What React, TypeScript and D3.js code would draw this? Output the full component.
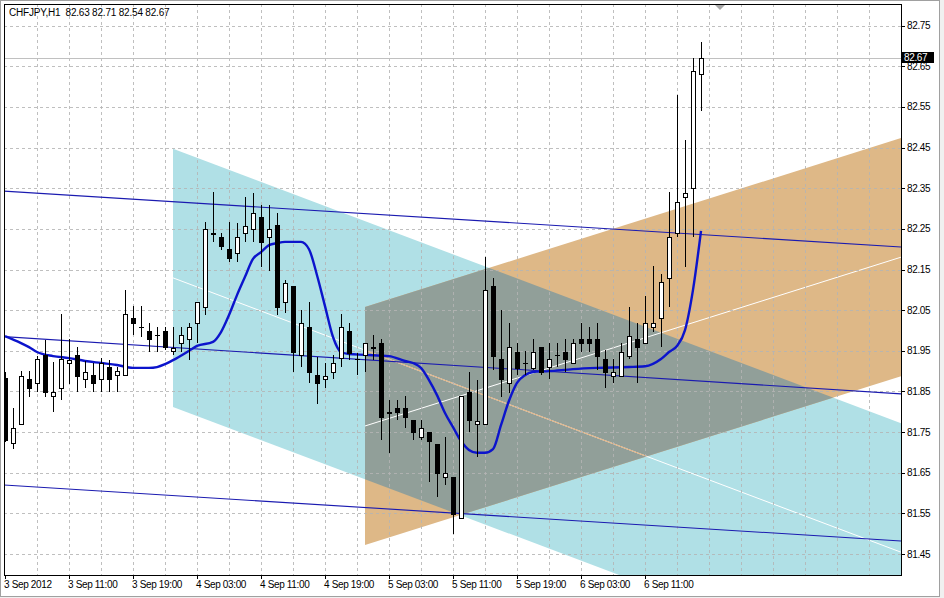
import React, { useEffect } from 'react';
import * as d3 from 'd3';

const title = 'CHFJPY,H1  82.63 82.71 82.54 82.67';

// OHLC per hourly bar, starting 3 Sep 2012 03:00
const opens = [81.883,81.723,81.770,81.881,81.871,81.940,81.839,81.858,81.920,81.940,81.881,81.890,81.881,81.910,81.890,81.890,82.031,82.009,81.999,81.989,81.999,81.950,81.969,81.979,82.018,82.058,82.240,82.230,82.200,82.191,82.240,82.250,82.279,82.230,82.260,82.070,82.109,81.940,82.009,81.890,81.881,81.898,81.932,81.999,81.930,81.940,81.959,81.969,81.799,81.809,81.809,81.780,81.738,81.750,81.721,81.640,81.640,81.539,81.849,81.770,81.770,82.109,81.930,81.871,81.947,81.920,81.908,81.959,81.910,81.940,81.947,81.920,81.979,81.979,81.979,81.930,81.888,81.888,81.937,81.979,81.969,82.009,82.031,82.129,82.240,82.328,82.351,82.630];
const highs = [81.898,81.809,81.900,81.900,81.937,81.977,81.922,82.041,81.979,81.959,81.925,81.920,81.932,81.927,81.910,82.100,82.060,82.060,82.018,82.009,82.009,82.009,82.009,82.018,82.070,82.267,82.341,82.240,82.267,82.264,82.328,82.338,82.309,82.309,82.289,82.124,82.109,82.050,82.070,81.935,81.920,81.940,82.041,82.018,81.945,81.969,81.989,81.979,81.829,81.829,81.839,81.780,81.780,81.750,81.721,81.738,81.640,81.839,81.898,81.878,82.181,82.129,82.050,82.018,81.969,81.950,81.979,81.959,81.969,81.969,81.979,81.979,82.018,82.009,82.018,81.952,81.930,81.969,82.058,82.018,82.085,82.159,82.139,82.341,82.579,82.469,82.670,82.710];
const lows = [81.726,81.708,81.770,81.836,81.849,81.836,81.799,81.829,81.868,81.849,81.858,81.849,81.849,81.849,81.849,81.890,81.989,81.984,81.947,81.947,81.952,81.940,81.947,81.927,81.969,82.038,82.218,82.198,82.169,82.169,82.218,82.218,82.156,82.146,82.038,82.043,81.898,81.910,81.871,81.819,81.858,81.881,81.910,81.927,81.890,81.898,81.927,81.731,81.699,81.780,81.760,81.731,81.731,81.627,81.590,81.620,81.499,81.539,81.750,81.689,81.770,81.903,81.836,81.846,81.890,81.890,81.903,81.890,81.881,81.910,81.898,81.920,81.947,81.947,81.903,81.858,81.871,81.888,81.930,81.871,81.969,81.996,81.959,82.058,82.230,82.156,82.230,82.540];
const closes = [81.731,81.760,81.888,81.858,81.930,81.849,81.849,81.930,81.927,81.888,81.898,81.871,81.920,81.881,81.900,82.041,82.018,82.009,81.979,81.989,81.959,81.957,81.989,82.009,82.070,82.250,82.238,82.208,82.178,82.230,82.257,82.289,82.218,82.250,82.058,82.117,81.947,82.018,81.898,81.871,81.888,81.920,82.009,81.945,81.929,81.969,81.958,81.787,81.798,81.799,81.787,81.750,81.760,81.728,81.649,81.649,81.548,81.839,81.780,81.777,82.100,81.937,81.881,81.959,81.908,81.919,81.947,81.898,81.930,81.939,81.930,81.969,81.969,81.969,81.937,81.898,81.898,81.947,81.986,81.959,82.018,82.018,82.119,82.230,82.316,82.338,82.638,82.670];

// moving average (thick blue) read at bar positions
const maBars = [0,2,3,4,6,8,10,12,14,16,18,19,20,21,23,24,26,27,28,29,30,31,32,33,34,35,36,37,38,39,40,41,42,43,45,48,50,51,52,53,54,55,56,57,58,59,60,61,62,63,64,65,66,68,71,74,78,80,82,83,84,85,86,87];
const maValues = [81.986,81.969,81.959,81.947,81.937,81.932,81.925,81.920,81.915,81.908,81.908,81.910,81.917,81.927,81.950,81.962,81.972,81.996,82.038,82.087,82.132,82.176,82.193,82.210,82.215,82.218,82.218,82.218,82.200,82.136,82.060,81.984,81.947,81.942,81.940,81.937,81.925,81.920,81.908,81.878,81.841,81.797,81.762,81.728,81.706,81.699,81.699,81.708,81.767,81.827,81.871,81.890,81.898,81.900,81.905,81.908,81.910,81.912,81.930,81.947,81.962,82.001,82.100,82.245];

// thin blue channel lines: price at bar 0 and bar 112
const trendStart = [82.343, 81.985, 81.620];
const trendEnd = [82.2055, 81.844, 81.482];

// regression channels: [start bar, upper price, lower price, slope per bar]
const blueChannel = [21, 82.447, 81.812, -0.007418];
const tanChannel = [45, 82.058, 81.472, 0.0062];

const timeLabels = ['3 Sep 2012','3 Sep 11:00','3 Sep 19:00','4 Sep 03:00','4 Sep 11:00','4 Sep 19:00','5 Sep 03:00','5 Sep 11:00','5 Sep 19:00','6 Sep 03:00','6 Sep 11:00'];
const timeLabelBars = [0,8,16,24,32,40,48,56,64,72,80];
const priceTicks = [82.75,82.65,82.55,82.45,82.35,82.25,82.15,82.05,81.95,81.85,81.75,81.65,81.55,81.45];
const lastPrice = 82.67;

const FONT = '"Liberation Sans", Arial, sans-serif';

export default function App() {
  useEffect(() => {
    document.body.style.margin = '0';
  }, []);

  const L = 4, T = 4, R = 901, B = 575;
  const x = d3.scaleLinear().domain([0, 112]).range([5, 901]);
  const y = d3.scaleLinear().domain([81.45, 82.75]).range([554, 25.7]);

  const chanPoly = (c: number[]) => {
    const [sb, up, lo, sl] = c;
    const eb = 140;
    const pts: [number, number][] = [
      [x(sb), y(up)],
      [x(eb), y(up + sl * (eb - sb))],
      [x(eb), y(lo + sl * (eb - sb))],
      [x(sb), y(lo)],
    ];
    return pts.map(p => p.join(',')).join(' ');
  };
  const centerLine = (c: number[]) => {
    const [sb, up, lo, sl] = c;
    const mid = (up + lo) / 2;
    const eb = 140;
    return { x1: x(sb), y1: y(mid), x2: x(eb), y2: y(mid + sl * (eb - sb)) };
  };

  const maLine = d3.line<number>()
    .x((_, i) => x(maBars[i]))
    .y(d => y(d))
    .curve(d3.curveMonotoneX)(maValues) || '';

  const gridBars = d3.range(4, 112, 4);
  const bc = centerLine(blueChannel);
  const tc = centerLine(tanChannel);

  return (
    <svg width={944} height={598} style={{ position: 'absolute', left: 0, top: 0, display: 'block' }} fontFamily={FONT}>
      <defs>
        <clipPath id="plotClip"><rect x={L} y={T} width={R - L} height={B - T} /></clipPath>
        <clipPath id="blueClip"><polygon points={chanPoly(blueChannel)} /></clipPath>
        <clipPath id="tanClip"><polygon points={chanPoly(tanChannel)} /></clipPath>
      </defs>
      <rect x={0} y={0} width={944} height={598} fill="#f0f0f0" />
      <rect x={0.5} y={0.5} width={939} height={596} fill="#ffffff" stroke="#a0a0a0" />
      <g clipPath="url(#plotClip)">
        <polygon points={chanPoly(blueChannel)} fill="#b0e0e6" />
        <polygon points={chanPoly(tanChannel)} fill="#deb887" />
        <polygon points={chanPoly(tanChannel)} fill="#919f99" clipPath="url(#blueClip)" />
        <line {...bc} stroke="#ffffff" strokeWidth={1} />
        <line {...bc} stroke="#e0ad7a" strokeWidth={1} clipPath="url(#tanClip)" />
        <line {...tc} stroke="#ffffff" strokeWidth={1} />
        {priceTicks.map(p => (
          <line key={'h' + p} x1={L} x2={R} y1={Math.round(y(p)) + 0.5} y2={Math.round(y(p)) + 0.5}
            stroke="#b4b4b4" strokeDasharray="3,3" strokeOpacity={0.85} />
        ))}
        {gridBars.map(b => (
          <line key={'v' + b} x1={Math.round(x(b)) + 0.5} x2={Math.round(x(b)) + 0.5} y1={T} y2={B}
            stroke="#b4b4b4" strokeDasharray="3,3" strokeOpacity={0.85} />
        ))}
        <line x1={L} x2={R} y1={Math.round(y(lastPrice)) + 0.5} y2={Math.round(y(lastPrice)) + 0.5} stroke="#c0c0c0" />
        {trendStart.map((p, i) => (
          <line key={'t' + i} x1={x(0) - 2} y1={y(p)} x2={x(112)} y2={y(trendEnd[i])} stroke="#1a1ab0" strokeWidth={1.1} />
        ))}
        <path d={maLine} fill="none" stroke="#0c14cc" strokeWidth={2.4} />
        {opens.map((o, i) => {
          const c = closes[i];
          const cx = Math.round(x(i)) + 0.5;
          const bull = c >= o;
          const yt = Math.round(y(Math.max(o, c)));
          const yb = Math.round(y(Math.min(o, c)));
          return (
            <g key={'c' + i}>
              <line x1={cx} x2={cx} y1={Math.round(y(highs[i]))} y2={Math.round(y(lows[i]))} stroke="#000" />
              {yb - yt < 1 ? (
                <line x1={cx - 2.5} x2={cx + 2.5} y1={yt + 0.5} y2={yt + 0.5} stroke="#000" />
              ) : (
                <rect x={cx - 2} y={yt + 0.5} width={4} height={yb - yt} fill={bull ? '#fff' : '#000'} stroke="#000" />
              )}
            </g>
          );
        })}
      </g>
      <polygon points="714,4 726,4 720,10" fill="#a8a8a8" />
      <rect x={L + 0.5} y={T + 0.5} width={R - L} height={B - T} fill="none" stroke="#000" />
      <text x={9} y={16} fontSize={10} fill="#000" style={{ whiteSpace: 'pre' }} letterSpacing={-0.2}>{title}</text>
      {priceTicks.map(p => (
        <g key={'yl' + p}>
          <line x1={R} x2={R + 4} y1={Math.round(y(p)) + 0.5} y2={Math.round(y(p)) + 0.5} stroke="#000" />
          <text x={907} y={y(p) + 3.5} fontSize={10} letterSpacing={-0.35} fill="#000">{p.toFixed(2)}</text>
        </g>
      ))}
      <rect x={902} y={52} width={32} height={11} fill="#000" />
      <text x={904} y={61} fontSize={10} letterSpacing={-0.35} fill="#fff">{lastPrice.toFixed(2)}</text>
      {timeLabels.map((t, i) => (
        <g key={'xl' + i}>
          <line x1={Math.round(x(timeLabelBars[i])) + 0.5} x2={Math.round(x(timeLabelBars[i])) + 0.5} y1={B} y2={B + 4} stroke="#000" />
          <text x={x(timeLabelBars[i]) - 1} y={588} fontSize={10} letterSpacing={-0.35} fill="#000">{t}</text>
        </g>
      ))}
    </svg>
  );
}
